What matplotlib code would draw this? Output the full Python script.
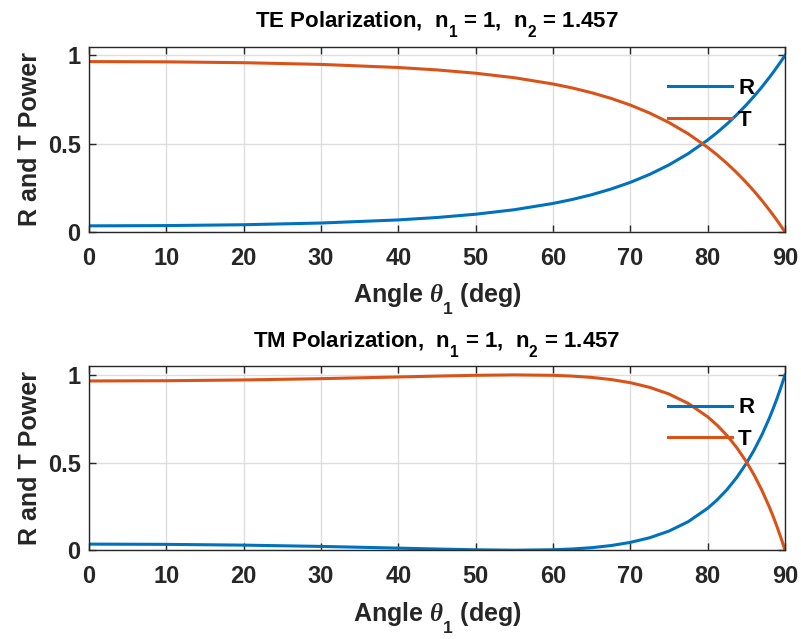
import matplotlib
matplotlib.use("Agg")
from matplotlib import pyplot as plt
import matplotlib._mathtext as mt

plt.rcParams["font.family"] = ["Liberation Sans", "DejaVu Sans"]
plt.rcParams["font.weight"] = "bold"
plt.rcParams["mathtext.fontset"] = "custom"
plt.rcParams["mathtext.rm"] = "Liberation Sans:bold"
plt.rcParams["mathtext.it"] = "Liberation Serif:italic"
plt.rcParams["mathtext.bf"] = "Liberation Sans:bold"

# MATLAB drops its subscripts lower than mathtext does
if hasattr(mt, "FontConstantsBase"):
    mt.FontConstantsBase.sub1 = 1.0
    mt.FontConstantsBase.sub2 = 1.0

# angle of incidence (deg) and power values
angle = [0, 10, 20, 30, 40, 45, 50, 55, 60, 62.5, 65, 67.5, 70, 72.5, 75, 77.5, 80,
         81.25, 82.5, 83.75, 85, 86, 87, 88, 88.5, 89, 89.5, 90]

te_R = [0.0346, 0.0361, 0.0409, 0.0506, 0.0682, 0.0819, 0.1005, 0.1260, 0.1615, 0.1841,
        0.2110, 0.2430, 0.2809, 0.3261, 0.3800, 0.4442, 0.5207, 0.5642, 0.6117, 0.6635,
        0.7199, 0.7686, 0.8208, 0.8766, 0.9059, 0.9363, 0.9676, 1.0]
te_T = [0.9654, 0.9639, 0.9591, 0.9494, 0.9318, 0.9181, 0.8995, 0.8740, 0.8385, 0.8159,
        0.7890, 0.7570, 0.7191, 0.6739, 0.6200, 0.5558, 0.4793, 0.4358, 0.3883, 0.3365,
        0.2801, 0.2314, 0.1792, 0.1234, 0.0941, 0.0637, 0.0324, 0.0]

tm_R = [0.0346, 0.0332, 0.0288, 0.0215, 0.0118, 0.0067, 0.0023, 0.0000, 0.0024, 0.0068,
        0.0143, 0.0263, 0.0444, 0.0709, 0.1089, 0.1630, 0.2390, 0.2878, 0.3456, 0.4140,
        0.4950, 0.5704, 0.6568, 0.7558, 0.8107, 0.8694, 0.9324, 1.0]
tm_T = [0.9654, 0.9668, 0.9712, 0.9785, 0.9882, 0.9933, 0.9977, 1.0000, 0.9976, 0.9932,
        0.9857, 0.9737, 0.9556, 0.9291, 0.8911, 0.8370, 0.7610, 0.7122, 0.6544, 0.5860,
        0.5050, 0.4296, 0.3432, 0.2442, 0.1893, 0.1306, 0.0676, 0.0]

titles = ["TE Polarization,  n$_1$ = 1,  n$_2$ = 1.457",
          "TM Polarization,  n$_1$ = 1,  n$_2$ = 1.457"]

blue = "#0072BD"
orange = "#D95319"
dark = "#262626"

fig = plt.figure(figsize=(8.01, 6.39), dpi=100)
ax1 = fig.add_axes([0.111, 0.637, 0.869, 0.290])
ax2 = fig.add_axes([0.111, 0.139, 0.869, 0.288])

for ax, R, T, title in [(ax1, te_R, te_T, titles[0]), (ax2, tm_R, tm_T, titles[1])]:
    ax.plot(angle, R, color=blue, lw=2.2, label="R")
    ax.plot(angle, T, color=orange, lw=2.2, label="T")
    ax.set_xlim(0, 90)
    ax.set_ylim(0, 1.05)
    ax.set_xticks(range(0, 91, 10))
    ax.set_yticks([0, 0.5, 1])
    ax.set_yticklabels(["0", "0.5", "1"])
    ax.grid(True, color="#dedede", lw=1)
    ax.set_axisbelow(True)
    ax.tick_params(direction="in", top=True, right=True, length=5, width=1,
                   colors=dark, labelsize=17)
    ax.tick_params(axis="x", pad=11)
    ax.tick_params(axis="y", pad=6)
    for lab in ax.get_xticklabels() + ax.get_yticklabels():
        lab.set_fontweight("bold")
    for sp in ax.spines.values():
        sp.set_color(dark)
        sp.set_linewidth(1)
    ax.set_title(title, fontsize=16, fontweight="bold", pad=14)
    ax.set_xlabel(r"Angle $\theta$$_1$ (deg)", fontsize=18, fontweight="bold",
                  color=dark, labelpad=8)
    ax.set_ylabel("R and T Power", fontsize=18, fontweight="bold", color=dark, labelpad=4)
    ax.legend(loc="upper left", bbox_to_anchor=(0.832, 0.83), frameon=False,
              fontsize=16, handlelength=2.9, handletextpad=0.25, labelspacing=0.47,
              borderpad=0, borderaxespad=0)

fig.savefig("out.png", dpi=100)
